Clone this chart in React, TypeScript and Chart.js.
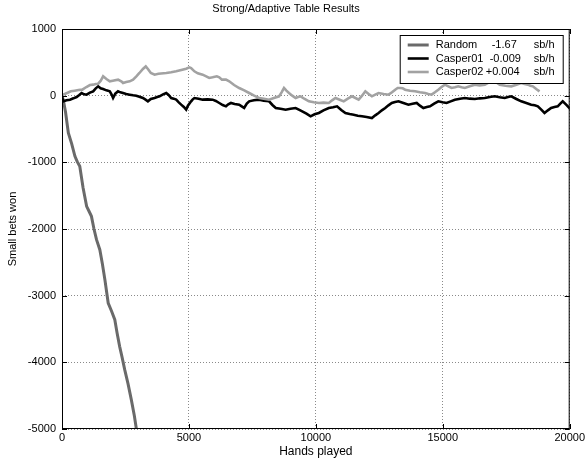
import React, { useEffect, useRef } from "react";
import { Chart, registerables } from "chart.js";

Chart.register(...registerables);

const chartTitle = "Strong/Adaptive Table Results";
const xAxisTitle = "Hands played";
const yAxisTitle = "Small bets won";
const xTicks = [0, 5000, 10000, 15000, 20000];
const yTicks = [-5000, -4000, -3000, -2000, -1000, 0, 1000];

const seriesNames = ["Random", "Casper01", "Casper02"];
const seriesRates = ["-1.67", "-0.009", "+0.004"];
const rateUnit = "sb/h";

const randomHands = [0, 60, 140, 250, 380, 510, 600, 700, 830, 970, 1060, 1160, 1260, 1360, 1490, 1590, 1690, 1820, 1950, 2080, 2170, 2270, 2370, 2470, 2600, 2730, 2850, 2930];
const randomValues = [0, -80, -250, -560, -720, -910, -990, -1060, -1380, -1660, -1730, -1810, -2000, -2160, -2310, -2520, -2760, -3110, -3230, -3360, -3560, -3760, -3930, -4110, -4320, -4560, -4800, -5000];

const casper01Hands = [
  0, 50, 180, 314, 450, 576, 680, 773, 870, 969, 1100, 1227, 1330, 1424, 1520, 1620, 1750, 1882, 1950, 2012,
  2100, 2208, 2300, 2404, 2530, 2667, 2800, 2929, 3050, 3188, 3290, 3384, 3500, 3647, 3750, 3843, 3980, 4106, 4200, 4302,
  4400, 4498, 4600, 4694, 4800, 4890, 4960, 5086, 5150, 5216, 5380, 5541, 5740, 5933, 6060, 6196, 6330, 6459, 6550, 6655,
  6800, 6980, 7080, 7176, 7280, 7373, 7560, 7765, 7950, 8157, 8290, 8420, 8610, 8810, 9000, 9203, 9330, 9463, 9630, 9792,
  9950, 10118, 10300, 10510, 10680, 10835, 11000, 11165, 11330, 11490, 11650, 11816, 12000, 12208, 12340, 12471, 12600, 12733, 12860, 12992,
  13120, 13255, 13450, 13647, 13810, 13973, 14100, 14235, 14370, 14498, 14660, 14824, 14990, 15149, 15310, 15478, 15680, 15871, 16060, 16263,
  16460, 16655, 16850, 17047, 17240, 17439, 17570, 17698, 17900, 18090, 18290, 18482, 18620, 18745, 18880, 19008, 19140, 19267, 19400, 19529,
  19630, 19725, 19860, 19988, 20000,
];
const casper01Values = [
  -20, -85, -70, -60, -40, -20, 10, 40, 20, 15, 45, 65, 110, 140, 110, 100, 80, 65, 20, -35,
  30, 65, 50, 40, 25, 15, 5, 0, -15, -35, -60, -85, -50, -35, -20, -10, 20, 40, 10, -35,
  -45, -60, -100, -135, -170, -210, -150, -85, -55, -35, -45, -60, -55, -60, -80, -110, -140, -160, -130, -110,
  -125, -135, -160, -185, -120, -85, -70, -60, -75, -85, -140, -185, -195, -210, -195, -185, -210, -235, -270, -310,
  -280, -260, -220, -185, -175, -160, -215, -260, -275, -285, -300, -310, -320, -335, -295, -260, -220, -185, -145, -110,
  -95, -85, -110, -135, -120, -110, -150, -185, -170, -160, -120, -85, -100, -110, -85, -60, -45, -35, -45, -50,
  -40, -35, -20, -10, -25, -35, -20, -10, -50, -85, -110, -135, -145, -160, -210, -260, -220, -185, -170, -160,
  -120, -85, -135, -185, -190,
];

const casper02Hands = [
  0, 50, 200, 350, 500, 650, 800, 960, 1100, 1227, 1330, 1424, 1520, 1620, 1750, 1882, 2000, 2208, 2350, 2404,
  2530, 2667, 2800, 2929, 3050, 3188, 3300, 3384, 3500, 3647, 3800, 4106, 4300, 4498, 4700, 4890, 5020, 5086, 5216, 5350,
  5541, 5700, 5800, 5933, 6100, 6196, 6300, 6459, 6588, 6780, 6980, 7180, 7373, 7570, 7765, 7950, 8157, 8350, 8549, 8650,
  8745, 8840, 8941, 9070, 9203, 9300, 9400, 9560, 9725, 9920, 10118, 10300, 10510, 10640, 10773, 10940, 11098, 11260, 11424, 11560,
  11686, 11820, 11949, 12080, 12208, 12340, 12471, 12670, 12863, 13000, 13125, 13222, 13322, 13420, 13518, 13710, 13910, 14100, 14302, 14430,
  14561, 14690, 14824, 14950, 15086, 15220, 15345, 15480, 15608, 15740, 15871, 16060, 16263, 16450, 16655, 16820, 16980, 17100, 17243, 17470,
  17698, 17900, 18090, 18220, 18353, 18450, 18549, 18680, 18812,
];
const casper02Values = [
  0, 15, 40, 65, 75, 85, 90, 130, 160, 165, 175, 180, 220, 290, 250, 215, 225, 240, 210, 190,
  205, 215, 240, 290, 340, 400, 440, 400, 340, 315, 330, 340, 350, 365, 385, 405, 425, 415, 365, 335,
  315, 285, 265, 275, 290, 275, 240, 240, 215, 160, 115, 80, 40, 0, -35, -45, -60, -35, -10, 50,
  115, 75, 40, 0, -35, -20, -10, -50, -85, -100, -110, -105, -110, -70, -35, -60, -85, -45, -10, -35,
  -60, 0, 65, 25, -10, 15, 40, 25, 15, 50, 90, 115, 115, 110, 90, 75, 65, 50, 40, 25,
  15, 50, 90, 130, 165, 140, 115, 125, 140, 125, 115, 140, 165, 155, 165, 200, 240, 200, 165, 150,
  140, 165, 190, 175, 165, 150, 140, 100, 65,
];

const seriesColors = ["#6a6a6a", "#000000", "#a2a2a2"];
const seriesWidths = [3, 2.6, 2.6];
const fontFamily = "'Liberation Sans', Arial, sans-serif";

function toPoints(xs: number[], ys: number[]) {
  return ys.map((y, i) => ({ x: xs[i], y }));
}

const framePlugin = {
  id: "matlabFrame",
  afterDraw(chart: any) {
    const { ctx, chartArea } = chart;
    const { left, right, top, bottom } = chartArea;
    const xs = chart.scales.x;
    const ys = chart.scales.y;
    ctx.save();
    ctx.strokeStyle = "#000";
    ctx.lineWidth = 1;
    ctx.strokeRect(left + 0.5, top + 0.5, right - left - 1, bottom - top - 1);
    ctx.beginPath();
    xTicks.forEach((v) => {
      const px = Math.round(xs.getPixelForValue(v)) + 0.5;
      ctx.moveTo(px, bottom);
      ctx.lineTo(px, bottom - 5);
      ctx.moveTo(px, top);
      ctx.lineTo(px, top + 5);
    });
    yTicks.forEach((v) => {
      const py = Math.round(ys.getPixelForValue(v)) + 0.5;
      ctx.moveTo(left, py);
      ctx.lineTo(left + 5, py);
      ctx.moveTo(right, py);
      ctx.lineTo(right - 5, py);
    });
    ctx.stroke();

    // legend
    const bx = right - 170;
    const by = top + 6;
    const bw = 163;
    const bh = 48;
    ctx.fillStyle = "#fff";
    ctx.fillRect(bx, by, bw, bh);
    ctx.strokeStyle = "#000";
    ctx.lineWidth = 1;
    ctx.strokeRect(bx + 0.5, by + 0.5, bw, bh);
    ctx.font = "11px " + fontFamily;
    ctx.textBaseline = "middle";
    const rateX = [92, 90, 86];
    seriesNames.forEach((name, i) => {
      const y = by + 10 + i * 13.5;
      ctx.strokeStyle = seriesColors[i];
      ctx.lineWidth = seriesWidths[i];
      ctx.beginPath();
      ctx.moveTo(bx + 8, y);
      ctx.lineTo(bx + 29, y);
      ctx.stroke();
      ctx.fillStyle = "#000";
      ctx.textAlign = "left";
      ctx.fillText(name, bx + 36, y);
      ctx.fillText(seriesRates[i], bx + rateX[i], y);
      ctx.fillText(rateUnit, bx + 134, y);
    });
    ctx.restore();
  },
};

export default function App() {
  const canvasRef = useRef<HTMLCanvasElement | null>(null);

  useEffect(() => {
    if (!canvasRef.current) return;
    const chart = new Chart(canvasRef.current, {
      type: "line",
      data: {
        datasets: [
          {
            label: seriesNames[0],
            data: toPoints(randomHands, randomValues),
            borderColor: seriesColors[0],
            borderWidth: seriesWidths[0],
            pointRadius: 0,
            tension: 0,
            order: 2,
          },
          {
            label: seriesNames[1],
            data: toPoints(casper01Hands, casper01Values),
            borderColor: seriesColors[1],
            borderWidth: seriesWidths[1],
            pointRadius: 0,
            tension: 0,
            order: 1,
          },
          {
            label: seriesNames[2],
            data: toPoints(casper02Hands, casper02Values),
            borderColor: seriesColors[2],
            borderWidth: seriesWidths[2],
            pointRadius: 0,
            tension: 0,
            order: 0,
          },
        ],
      },
      options: {
        animation: false,
        responsive: false,
        maintainAspectRatio: false,
        events: [],
        layout: { padding: { left: 0, right: 15, top: 0, bottom: 0 } },
        plugins: {
          legend: { display: false },
          tooltip: { enabled: false },
          title: {
            display: true,
            text: chartTitle,
            color: "#000",
            font: { family: fontFamily, size: 11, weight: "normal" },
            padding: { top: 2, bottom: 13.8 },
          },
        },
        scales: {
          x: {
            type: "linear",
            min: 0,
            max: 20000,
            afterBuildTicks: (scale: any) => {
              scale.ticks = xTicks.map((v) => ({ value: v }));
            },
            afterFit: (scale: any) => {
              scale.height = 30;
            },
            ticks: {
              color: "#000",
              padding: 2,
              maxRotation: 0,
              font: { family: fontFamily, size: 11 },
              callback: (v: any) => String(v),
            },
            grid: { color: "#8a8a8a", drawTicks: false },
            border: { display: false, dash: [1, 2] },
            title: {
              display: true,
              text: xAxisTitle,
              color: "#000",
              font: { family: fontFamily, size: 12 },
              padding: { top: 0, bottom: 0 },
            },
          },
          y: {
            type: "linear",
            min: -5000,
            max: 1000,
            afterBuildTicks: (scale: any) => {
              scale.ticks = yTicks.map((v) => ({ value: v }));
            },
            afterFit: (scale: any) => {
              scale.width = 62;
            },
            ticks: {
              color: "#000",
              padding: 6,
              font: { family: fontFamily, size: 11 },
              callback: (v: any) => String(v),
            },
            grid: { color: "#8a8a8a", drawTicks: false },
            border: { display: false, dash: [1, 2] },
            title: {
              display: true,
              text: yAxisTitle,
              color: "#000",
              font: { family: fontFamily, size: 11 },
              padding: { top: 6, bottom: 0 },
            },
          },
        },
      },
      plugins: [framePlugin],
    } as any);
    return () => chart.destroy();
  }, []);

  return (
    <div style={{ position: "fixed", left: 0, top: 0, width: 587, height: 459, background: "#fff" }}>
      <canvas ref={canvasRef} width={587} height={459} style={{ width: 587, height: 459, display: "block" }} />
    </div>
  );
}
